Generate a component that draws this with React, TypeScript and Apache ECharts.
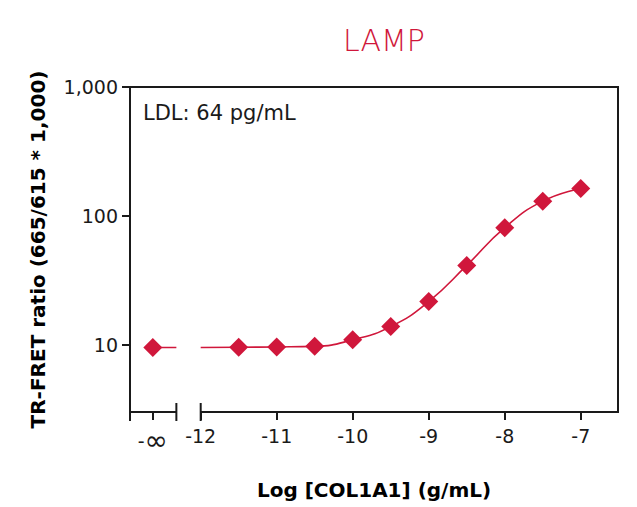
import React, { useEffect, useRef } from "react";
import * as echarts from "echarts";

// Log [COL1A1] (g/mL) of the standards, and the measured TR-FRET ratio
const logConc = [-11.5, -11, -10.5, -10, -9.5, -9, -8.5, -8, -7.5, -7];
const ratio = [9.55, 9.6, 9.7, 10.9, 13.8, 21.6, 41.2, 80.9, 130, 163];

// blank (no COL1A1) drawn at the "-∞" slot left of the axis break
const blankPos = -12.63;
const blankRatio = 9.5;

// fitted curve, started at the break
const curveConc = [-12, ...logConc];
const curveRatio = [9.5, ...ratio];

const xTicks = [-12, -11, -10, -9, -8, -7];
const yTicks = [10, 100, 1000];

const xMin = -12.93;
const xMax = -6.51;
const breakStart = -12.32;
const breakEnd = -12;
const yMin = 3;
const yMax = 1000;

const RED = "#d0173b";
const INK = "#1a1a1a";
const FONT = "'DejaVu Sans', sans-serif";

export default function App() {
  const chartRef = useRef<HTMLDivElement>(null);

  useEffect(() => {
    document.body.style.margin = "0";
    if (!chartRef.current) return;
    const chart = echarts.init(chartRef.current, undefined, { renderer: "svg" });

    const option: any = {
      animation: false,
      backgroundColor: "#fff",
      title: {
        text: "LAMP",
        left: 379,
        top: 20,
        textAlign: "center",
        textStyle: { color: "#d0173b", fontFamily: FONT, fontWeight: 200, fontSize: 30 },
      },
      grid: { left: 130, right: 19, top: 87, bottom: 95, outerBoundsMode: "none" },
      xAxis: {
        type: "value",
        min: xMin,
        max: xMax,
        axisLine: { show: false },
        splitLine: { show: false },
        axisTick: {
          show: true,
          customValues: [blankPos, ...xTicks],
          length: 8,
          lineStyle: { color: INK, width: 2 },
        },
        axisLabel: {
          customValues: [blankPos, ...xTicks],
          formatter: (v: number) => (Math.abs(v - blankPos) < 1e-6 ? "-{inf|∞}" : String(v)),
          color: INK,
          fontFamily: FONT,
          fontSize: 19,
          margin: 14,
          rich: { inf: { fontFamily: FONT, fontSize: 28, color: INK, padding: [0, 0, 2, 0] } },
        },
        name: "Log [COL1A1] (g/mL)",
        nameLocation: "middle",
        nameGap: 68,
        nameTextStyle: { color: "#000", fontFamily: FONT, fontWeight: "bold", fontSize: 20 },
      },
      yAxis: {
        type: "log",
        logBase: 10,
        min: yMin,
        max: yMax,
        axisLine: { show: true, lineStyle: { color: INK, width: 2 } },
        splitLine: { show: false },
        minorTick: { show: false },
        axisTick: {
          show: true,
          customValues: yTicks,
          length: 8,
          lineStyle: { color: INK, width: 2 },
        },
        axisLabel: {
          customValues: yTicks,
          formatter: (v: number) => v.toLocaleString("en-US"),
          color: INK,
          fontFamily: FONT,
          fontSize: 19,
          margin: 12,
        },
        name: "TR-FRET ratio (665/615 * 1,000)",
        nameLocation: "middle",
        nameGap: 82,
        nameTextStyle: { color: "#000", fontFamily: FONT, fontWeight: "bold", fontSize: 20 },
      },
      series: [
        {
          name: "fit",
          type: "line",
          smooth: 0.5,
          showSymbol: false,
          symbol: "none",
          lineStyle: { color: RED, width: 1.6 },
          data: curveConc.map((x, i) => [x, curveRatio[i]]),
          z: 2,
        },
        {
          name: "blank fit",
          type: "line",
          symbol: "none",
          lineStyle: { color: RED, width: 1.6 },
          data: [
            [blankPos, blankRatio],
            [breakStart, blankRatio],
          ],
          z: 2,
        },
        {
          name: "standards",
          type: "scatter",
          symbol: "diamond",
          symbolSize: 19,
          itemStyle: { color: RED, opacity: 1 },
          data: [[blankPos, blankRatio], ...logConc.map((x, i) => [x, ratio[i]])],
          z: 3,
        },
      ],
    };

    chart.setOption(option);

    // frame and broken bottom axis, placed through the chart's own scales
    const px = (v: number) => chart.convertToPixel({ xAxisIndex: 0 }, v) as number;
    const py = (v: number) => chart.convertToPixel({ yAxisIndex: 0 }, v) as number;
    const yb = py(yMin);
    const yt = py(yMax);
    const xl = px(xMin);
    const xr = px(xMax);
    const xs = px(breakStart);
    const xe = px(breakEnd);
    const ls = { stroke: INK, lineWidth: 2 };
    chart.setOption({
      graphic: [
        {
          type: "text",
          left: 143,
          top: 102,
          style: { text: "LDL: 64 pg/mL", fill: INK, font: `21px ${FONT}` },
        },
        { type: "line", shape: { x1: xl - 1, y1: yt, x2: xr + 1, y2: yt }, style: ls },
        { type: "line", shape: { x1: xr, y1: yt, x2: xr, y2: yb }, style: ls },
        { type: "line", shape: { x1: xl - 1, y1: yb, x2: xs, y2: yb }, style: ls },
        { type: "line", shape: { x1: xe, y1: yb, x2: xr + 1, y2: yb }, style: ls },
        { type: "line", shape: { x1: xs, y1: yb - 9, x2: xs, y2: yb + 9 }, style: ls },
        { type: "line", shape: { x1: xe, y1: yb - 9, x2: xe, y2: yb + 9 }, style: ls },
        { type: "line", shape: { x1: xl, y1: yb, x2: xl, y2: yb + 9 }, style: ls },
      ],
    });

    return () => chart.dispose();
  }, []);

  return <div ref={chartRef} style={{ width: 637, height: 507 }} />;
}
